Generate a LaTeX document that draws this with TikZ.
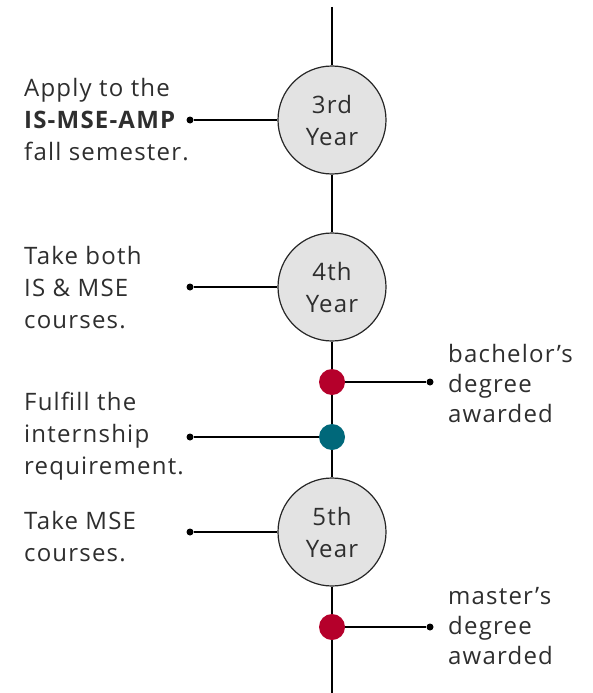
\documentclass[tikz,border=0pt]{standalone}
\usepackage{fontspec}
\setmainfont{Open Sans}
\newfontfamily\notefont[LetterSpace=5]{Open Sans}
\usetikzlibrary{positioning}

\definecolor{degreered}{HTML}{B5002B}
\definecolor{internteal}{HTML}{00687A}
\definecolor{yeargray}{HTML}{E3E3E3}
\definecolor{textgray}{HTML}{2E2E2E}

\tikzset{
  year/.style={circle,draw=black!85,line width=1.2pt,fill=yeargray,minimum size=108pt,inner sep=0pt,align=center,text=textgray,font=\notefont\fontsize{24}{32}\selectfont},
  milestone/.style={circle,minimum size=26pt,inner sep=0pt},
  pin/.style={circle,fill=black,minimum size=7pt,inner sep=0pt},
  note/.style={align=left,inner sep=0pt,text=textgray,font=\notefont\fontsize{24}{32}\selectfont},
  spine/.style={line width=2.8pt},
  link/.style={line width=2pt}
}

\begin{document}
\begin{tikzpicture}[x=1pt,y=-1pt]
  \useasboundingbox (0,0) rectangle (592,693);

  % the years and milestones on the time line
  \coordinate (top) at (332,7);
  \coordinate (bottom) at (332,693);
  \node[year] (y3) at (332,120) {3rd\\Year};
  \node[year] (y4) at (332,287) {4th\\Year};
  \node[milestone,fill=degreered] (bach) at (332,382) {};
  \node[milestone,fill=internteal] (intern) at (332,437) {};
  \node[year] (y5) at (332,532) {5th\\Year};
  \node[milestone,fill=degreered] (mast) at (332,627) {};
  \draw[spine] (top) -- (y3) -- (y4) -- (bach) -- (intern) -- (y5) -- (mast) -- (bottom);

  % left side
  \node[pin] (p3) at (190,120) {};
  \node[pin] (p4) at (190,287) {};
  \node[pin] (pi) at (190,437) {};
  \node[pin] (p5) at (190,532) {};
  \draw[link] (p3) -- (y3);
  \draw[link] (p4) -- (y4);
  \draw[link] (pi) -- (intern);
  \draw[link] (p5) -- (y5);
  \node[note,anchor=west] (apply) at (24,120) {Apply to the\\\textbf{IS-MSE-AMP}\\fall semester.};
  \node[note,anchor=west] (both) at (24,288) {Take both\\IS \& MSE\\courses.};
  \node[note,anchor=west] (fulfill) at (24,436) {Fulfill the\\internship\\requirement.};
  \node[note,anchor=west] (mse) at (24,537) {Take MSE\\courses.};

  % right side
  \node[pin] (pb) at (430,382) {};
  \node[pin] (pm) at (430,627) {};
  \draw[link,line width=1.6pt] (bach) -- (pb);
  \draw[link,line width=1.6pt] (mast) -- (pm);
  \node[note,anchor=west,font=\notefont\fontsize{24}{30}\selectfont] (bachelor) at (448,383) {bachelor’s\\degree\\awarded};
  \node[note,anchor=west,font=\notefont\fontsize{24}{30}\selectfont] (master) at (448,626) {master’s\\degree\\awarded};
\end{tikzpicture}
\end{document}
